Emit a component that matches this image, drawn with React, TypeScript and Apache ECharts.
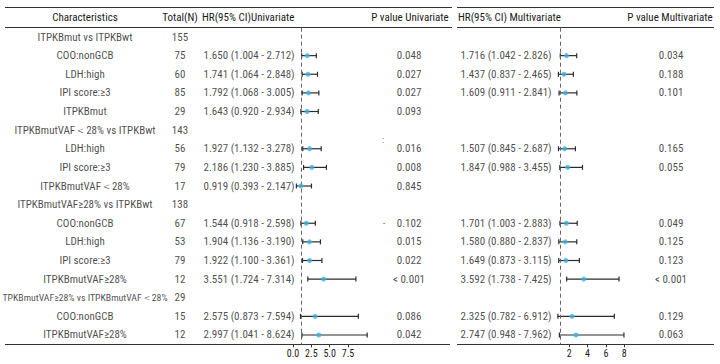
import React, { useEffect, useRef } from "react";
import * as echarts from "echarts";

const characteristics = [
  "ITPKBmut vs ITPKBwt",
  "COO:nonGCB",
  "LDH:high",
  "IPI score:≥3",
  "ITPKBmut",
  "ITPKBmutVAF＜28% vs ITPKBwt",
  "LDH:high",
  "IPI score:≥3",
  "ITPKBmutVAF＜28%",
  "ITPKBmutVAF≥28% vs ITPKBwt",
  "COO:nonGCB",
  "LDH:high",
  "IPI score:≥3",
  "ITPKBmutVAF≥28%",
  "TPKBmutVAF≥28% vs ITPKBmutVAF＜28%",
  "COO:nonGCB",
  "ITPKBmutVAF≥28%",
];
const totals = [155, 75, 60, 85, 29, 143, 56, 79, 17, 138, 67, 53, 79, 12, 29, 15, 12];
const uniHR = [null, 1.65, 1.741, 1.792, 1.643, null, 1.927, 2.186, 0.919, null, 1.544, 1.904, 1.922, 3.551, null, 2.575, 2.997];
const uniLo = [null, 1.004, 1.064, 1.068, 0.92, null, 1.132, 1.23, 0.393, null, 0.918, 1.136, 1.1, 1.724, null, 0.873, 1.041];
const uniHi = [null, 2.712, 2.848, 3.005, 2.934, null, 3.278, 3.885, 2.147, null, 2.598, 3.19, 3.361, 7.314, null, 7.594, 8.624];
const uniP = ["", "0.048", "0.027", "0.027", "0.093", "", "0.016", "0.008", "0.845", "", "0.102", "0.015", "0.022", "< 0.001", "", "0.086", "0.042"];
const multiHR = [null, 1.716, 1.437, 1.609, null, null, 1.507, 1.847, null, null, 1.701, 1.58, 1.649, 3.592, null, 2.325, 2.747];
const multiLo = [null, 1.042, 0.837, 0.911, null, null, 0.845, 0.988, null, null, 1.003, 0.88, 0.873, 1.738, null, 0.782, 0.948];
const multiHi = [null, 2.826, 2.465, 2.841, null, null, 2.687, 3.455, null, null, 2.883, 2.837, 3.115, 7.425, null, 6.912, 7.962];
const multiP = ["", "0.034", "0.188", "0.101", "", "", "0.165", "0.055", "", "", "0.049", "0.125", "0.123", "< 0.001", "", "0.129", "0.063"];
const headers = ["Characteristics", "Total(N)", "HR(95% CI)Univariate", "P value Univariate", "HR(95% CI) Multivariate", "P value Multivariate"];
const uniTicks = [0, 2.5, 5, 7.5];
const multiTicks = [2, 4, 6, 8];

const FONT = "'Roboto Condensed', 'Liberation Sans Narrow', sans-serif";
const TXT = "#1a1a1a";
const BLUE = "#3cb1dc";
const TOP = 27.7;
const BOTTOM = 344.3;
const H = BOTTOM - TOP;

const fmtCI = (hr: number | null, lo: number | null, hi: number | null) =>
  hr == null ? "" : `${hr.toFixed(3)} (${(lo as number).toFixed(3)} - ${(hi as number).toFixed(3)})`;

export default function App() {
  const ref = useRef<HTMLDivElement>(null);
  useEffect(() => {
    document.body.style.margin = "0";
    const chart = echarts.init(ref.current!, null, { renderer: "svg" });

    const textSeries = (x: number, texts: string[], align: "center" | "left") => ({
      type: "scatter",
      xAxisIndex: 0,
      yAxisIndex: 0,
      symbolSize: 1,
      silent: true,
      itemStyle: { color: "transparent" },
      data: texts.map((t, i) =>
        t.length > 30
          ? { value: [x, i], name: t, label: { fontSize: 9.8 } }
          : { value: [x, i], name: t }
      ),
      label: {
        show: true,
        formatter: "{b}",
        position: align === "center" ? "inside" : "right",
        distance: 0,
        color: TXT,
        fontSize: 11,
        fontFamily: FONT,
      },
    });

    const ciSeries = (xi: number, yi: number, lo: (number | null)[], hi: (number | null)[]) => ({
      type: "custom",
      xAxisIndex: xi,
      yAxisIndex: yi,
      silent: true,
      data: lo.map((l, i) => (l == null ? null : [l, hi[i], i])).filter((d) => d),
      encode: { x: [0, 1], y: 2 },
      renderItem: (params: any, api: any) => {
        const a = api.coord([api.value(0), api.value(2)]);
        const b = api.coord([api.value(1), api.value(2)]);
        const st = { stroke: "#2b2b2b", lineWidth: 1.2 };
        return {
          type: "group",
          children: [
            { type: "line", shape: { x1: a[0], y1: a[1], x2: b[0], y2: b[1] }, style: st },
            { type: "line", shape: { x1: a[0], y1: a[1] - 2.5, x2: a[0], y2: a[1] + 2.5 }, style: st },
            { type: "line", shape: { x1: b[0], y1: b[1] - 2.5, x2: b[0], y2: b[1] + 2.5 }, style: st },
          ],
        };
      },
    });

    const ptSeries = (xi: number, yi: number, hr: (number | null)[]) => ({
      type: "scatter",
      xAxisIndex: xi,
      yAxisIndex: yi,
      silent: true,
      symbol: "circle",
      symbolSize: 5,
      itemStyle: { color: BLUE },
      data: hr.map((v, i) => (v == null ? null : [v, i])).filter((d) => d),
      z: 5,
    });

    const refLine = (xi: number, yi: number) => ({
      type: "line",
      xAxisIndex: xi,
      yAxisIndex: yi,
      data: [],
      markLine: {
        silent: true,
        symbol: "none",
        label: { show: false },
        lineStyle: { color: "#666", type: [4, 3], width: 1 },
        data: [{ xAxis: 1 }],
      },
    });

    const hline = (x1: number, x2: number, y: number) => ({
      type: "line",
      shape: { x1, y1: y, x2, y2: y },
      style: { stroke: "#333", lineWidth: 1 },
      silent: true,
    });
    const htext = (x: number, text: string, align: string) => ({
      type: "text",
      x,
      y: 17,
      style: { text, fill: TXT, font: `11px ${FONT}`, align, verticalAlign: "middle" },
      silent: true,
    });

    const cats = characteristics.map((_, i) => String(i));
    const catAxis = (g: number) => ({
      type: "category",
      gridIndex: g,
      data: cats,
      inverse: true,
      show: false,
      boundaryGap: true,
    });

    const tickAxis = (g: number, max: number, ticks: number[], fmt: (v: number) => string) => ({
      type: "value",
      gridIndex: g,
      min: 0,
      max,
      position: "bottom",
      axisLine: { show: false },
      splitLine: { show: false },
      axisTick: { show: true, length: 3, customValues: ticks, lineStyle: { color: "#333" } },
      axisLabel: {
        customValues: ticks,
        formatter: fmt,
        color: TXT,
        fontSize: 10,
        fontFamily: FONT,
        margin: 4,
      },
    });

    chart.setOption({
      animation: false,
      grid: [
        { left: 0, top: TOP, width: 720, height: H },
        { left: 293, top: TOP, width: 77.4, height: H },
        { left: 550.7, top: TOP, width: 82.8, height: H },
      ],
      xAxis: [
        { type: "value", gridIndex: 0, min: 0, max: 720, show: false },
        { type: "value", gridIndex: 1, min: 0, max: 9, show: false },
        tickAxis(1, 10.56, uniTicks, (v) => v.toFixed(1)),
        tickAxis(2, 9, multiTicks, (v) => String(v)),
      ],
      yAxis: [catAxis(0), catAxis(1), catAxis(2)],
      graphic: [
        hline(5, 452, 7.5),
        hline(457, 714, 7.5),
        hline(5, 452, 27.5),
        hline(457, 714, 27.5),
        hline(5, 450, 344.5),
        hline(457, 714, 344.5),
        htext(85, headers[0], "center"),
        htext(180, headers[1], "center"),
        htext(202, headers[2], "left"),
        htext(410, headers[3], "center"),
        htext(458, headers[4], "left"),
        htext(670, headers[5], "center"),
        { type: "text", x: 383, y: 140, style: { text: ":", fill: "#555", font: `9px ${FONT}`, align: "center", verticalAlign: "middle" }, silent: true },
        { type: "text", x: 384, y: 223, style: { text: "-", fill: "#555", font: `9px ${FONT}`, align: "center", verticalAlign: "middle" }, silent: true },
      ],
      series: [
        textSeries(85, characteristics, "center"),
        textSeries(180, totals.map(String), "center"),
        textSeries(203, uniHR.map((h, i) => fmtCI(h, uniLo[i], uniHi[i])), "left"),
        textSeries(409, uniP, "center"),
        textSeries(460, multiHR.map((h, i) => fmtCI(h, multiLo[i], multiHi[i])), "left"),
        textSeries(671, multiP, "center"),
        refLine(1, 1),
        ciSeries(1, 1, uniLo, uniHi),
        ptSeries(1, 1, uniHR),
        refLine(3, 2),
        ciSeries(3, 2, multiLo, multiHi),
        ptSeries(3, 2, multiHR),
      ],
    });
    return () => chart.dispose();
  }, []);
  return <div ref={ref} style={{ width: 720, height: 364 }} />;
}
